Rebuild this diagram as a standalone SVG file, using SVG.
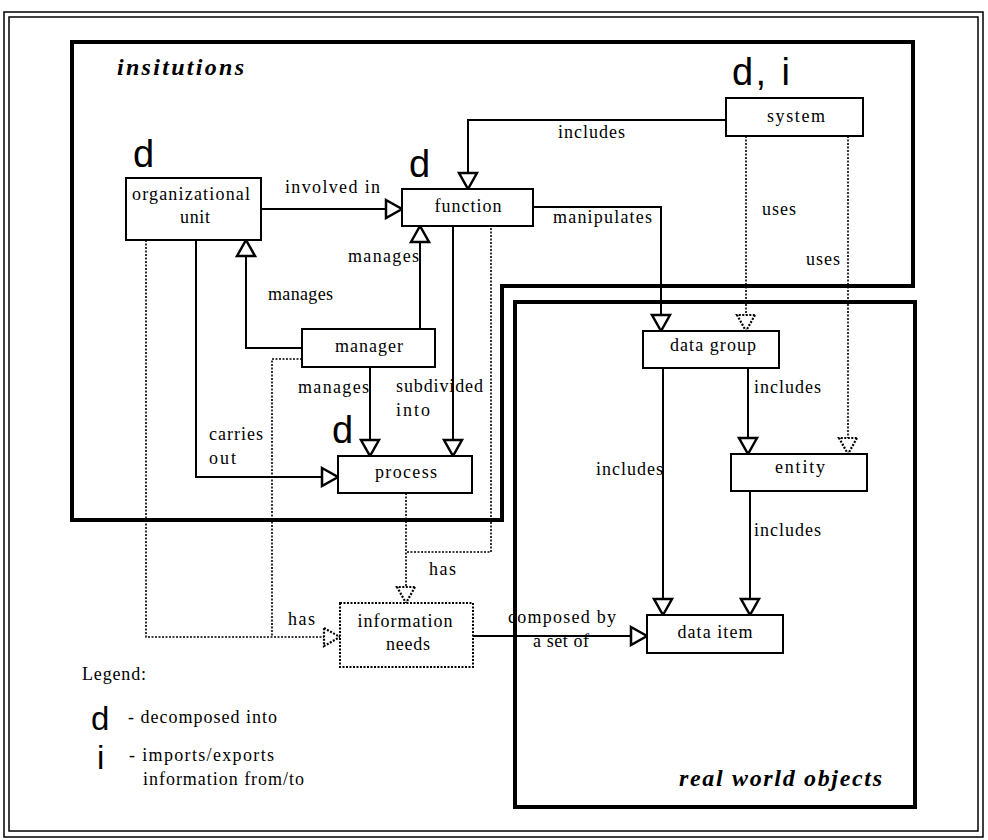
<svg xmlns="http://www.w3.org/2000/svg" width="988" height="840" viewBox="0 0 988 840">
<style>
.bg{fill:#fff}
.frame{fill:none;stroke:#000;stroke-width:1.5}
.region{fill:none;stroke:#000;stroke-width:4}
.box{fill:#fff;stroke:#000;stroke-width:2}
.dbox{fill:#fff;stroke:#000;stroke-width:2;stroke-dasharray:2 1.5}
.c{fill:none;stroke:#000;stroke-width:2}
.d{fill:none;stroke:#000;stroke-width:1.6;stroke-dasharray:2 1.5}
.t{font-family:"Liberation Serif","Times New Roman",serif;font-size:18px;fill:#000}
.tm{text-anchor:middle}
.big{font-family:"Liberation Sans",Arial,sans-serif;font-size:38px;fill:#000}
.lg{font-family:"Liberation Sans",Arial,sans-serif;font-size:33px;fill:#000}
.reg{font-family:"Liberation Serif","Times New Roman",serif;font-size:24px;font-weight:bold;font-style:italic;fill:#000}
</style>
<defs>
<marker id="arr" markerUnits="userSpaceOnUse" viewBox="-2 -2 21 22" markerWidth="21" markerHeight="22" refX="16" refY="9" orient="auto">
<path d="M0,0 L16,9 L0,18 Z" fill="#fff" stroke="#000" stroke-width="2.5"/>
</marker>
<marker id="arrd" markerUnits="userSpaceOnUse" viewBox="-2 -2 21 22" markerWidth="21" markerHeight="22" refX="16" refY="9" orient="auto">
<path d="M0,0 L16,9 L0,18 Z" fill="#fff" stroke="#000" stroke-width="2.2" stroke-dasharray="2 1.5"/>
</marker>
</defs>
<rect class="bg" x="0" y="0" width="988" height="840"/>
<g id="frame">
<rect class="frame" x="4" y="12" width="979" height="825"/>
<rect class="frame" x="9" y="17" width="969" height="814"/>
</g>
<g id="region-institutions">
<path class="region" d="M72,42 H913 V286 H502 V520 H72 Z"/>
<text class="reg" x="117" y="75" textLength="127" lengthAdjust="spacing">insitutions</text>
</g>
<g id="region-real-world-objects">
<rect class="region" x="515" y="302" width="400" height="505"/>
<text class="reg" x="679" y="786" textLength="203" lengthAdjust="spacing">real world objects</text>
</g>
<g id="connectors">
<path class="c" d="M726,120 H468 V189" marker-end="url(#arr)"/>
<text class="t" x="558" y="138" textLength="67" lengthAdjust="spacing">includes</text>
<path class="c" d="M261,209 H402" marker-end="url(#arr)"/>
<text class="t" x="285" y="193" textLength="95" lengthAdjust="spacing">involved in</text>
<path class="c" d="M420,329 V226" marker-end="url(#arr)"/>
<text class="t" x="348" y="262" textLength="71" lengthAdjust="spacing">manages</text>
<path class="c" d="M302,348 H246 V240" marker-end="url(#arr)"/>
<text class="t" x="268" y="300" textLength="65" lengthAdjust="spacing">manages</text>
<path class="c" d="M370,367 V456" marker-end="url(#arr)"/>
<text class="t" x="298" y="393" textLength="71" lengthAdjust="spacing">manages</text>
<path class="c" d="M453,226 V456" marker-end="url(#arr)"/>
<text class="t" x="396" y="392" textLength="87" lengthAdjust="spacing">subdivided</text>
<text class="t" x="396" y="416" textLength="34" lengthAdjust="spacing">into</text>
<path class="c" d="M196,240 V477 H338" marker-end="url(#arr)"/>
<text class="t" x="209" y="440" textLength="54" lengthAdjust="spacing">carries</text>
<text class="t" x="209" y="464" textLength="27" lengthAdjust="spacing">out</text>
<path class="c" d="M533,207 H661 V331" marker-end="url(#arr)"/>
<text class="t" x="553" y="223" textLength="99" lengthAdjust="spacing">manipulates</text>
<path class="d" d="M746,136 V331" marker-end="url(#arrd)"/>
<text class="t" x="762" y="215" textLength="34" lengthAdjust="spacing">uses</text>
<path class="d" d="M848,136 V454" marker-end="url(#arrd)"/>
<text class="t" x="806" y="265" textLength="34" lengthAdjust="spacing">uses</text>
<path class="c" d="M748,368 V454" marker-end="url(#arr)"/>
<text class="t" x="754" y="393" textLength="67" lengthAdjust="spacing">includes</text>
<path class="c" d="M663,368 V615" marker-end="url(#arr)"/>
<text class="t" x="596" y="475" textLength="67" lengthAdjust="spacing">includes</text>
<path class="c" d="M750,491 V615" marker-end="url(#arr)"/>
<text class="t" x="754" y="536" textLength="67" lengthAdjust="spacing">includes</text>
<path class="c" d="M473,636 H647" marker-end="url(#arr)"/>
<text class="t" x="508" y="623" textLength="108" lengthAdjust="spacing">composed by</text>
<text class="t" x="533" y="647" textLength="56" lengthAdjust="spacing">a set of</text>
<path class="d" d="M406,493 V603" marker-end="url(#arrd)"/>
<path class="d" d="M491,228 V552 H406"/>
<text class="t" x="429" y="575" textLength="27" lengthAdjust="spacing">has</text>
<path class="d" d="M146,240 V637 H340" marker-end="url(#arrd)"/>
<path class="d" d="M302,359 H272 V637"/>
<text class="t" x="288" y="625" textLength="27" lengthAdjust="spacing">has</text>
</g>
<g id="node-system">
<rect class="box" x="726" y="98" width="137" height="38"/>
<text class="t tm" x="796" y="122" textLength="58" lengthAdjust="spacing">system</text>
<text class="big" x="732" y="85" textLength="58" lengthAdjust="spacing">d, i</text>
</g>
<g id="node-organizational-unit">
<rect class="box" x="126" y="178" width="135" height="62"/>
<text class="t tm" x="191" y="200" textLength="118" lengthAdjust="spacing">organizational</text>
<text class="t tm" x="195" y="223" textLength="30" lengthAdjust="spacing">unit</text>
<text class="big" x="133" y="167">d</text>
</g>
<g id="node-function">
<rect class="box" x="402" y="189" width="131" height="37"/>
<text class="t tm" x="468" y="212" textLength="67" lengthAdjust="spacing">function</text>
<text class="big" x="409" y="177">d</text>
</g>
<g id="node-manager">
<rect class="box" x="302" y="329" width="133" height="38"/>
<text class="t tm" x="369" y="352" textLength="68" lengthAdjust="spacing">manager</text>
</g>
<g id="node-process">
<rect class="box" x="338" y="456" width="134" height="37"/>
<text class="t tm" x="406" y="478" textLength="62" lengthAdjust="spacing">process</text>
<text class="big" x="332" y="443">d</text>
</g>
<g id="node-data-group">
<rect class="box" x="643" y="331" width="136" height="37"/>
<text class="t tm" x="713" y="351" textLength="86" lengthAdjust="spacing">data group</text>
</g>
<g id="node-entity">
<rect class="box" x="731" y="454" width="136" height="37"/>
<text class="t tm" x="800" y="473" textLength="50" lengthAdjust="spacing">entity</text>
</g>
<g id="node-information-needs">
<rect class="dbox" x="340" y="603" width="133" height="64"/>
<text class="t tm" x="405" y="627" textLength="95" lengthAdjust="spacing">information</text>
<text class="t tm" x="408" y="650" textLength="44" lengthAdjust="spacing">needs</text>
</g>
<g id="node-data-item">
<rect class="box" x="647" y="615" width="136" height="38"/>
<text class="t tm" x="715" y="638" textLength="75" lengthAdjust="spacing">data item</text>
</g>
<g id="legend">
<text class="t" x="82" y="680" textLength="64" lengthAdjust="spacing">Legend:</text>
<text class="lg" x="91" y="730">d</text>
<text class="t" x="128" y="723" font-size="17" textLength="149" lengthAdjust="spacing">- decomposed into</text>
<text class="lg" x="97" y="769">i</text>
<text class="t" x="129" y="761" font-size="17" textLength="145" lengthAdjust="spacing">- imports/exports</text>
<text class="t" x="143" y="785" font-size="17" textLength="161" lengthAdjust="spacing">information from/to</text>
</g>
</svg>
